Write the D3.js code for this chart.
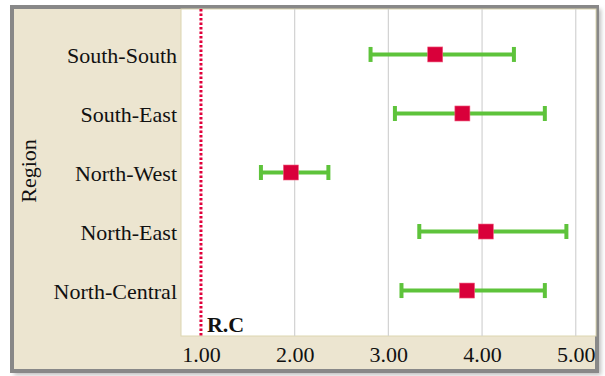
<!DOCTYPE html>
<html>
<head>
<meta charset="utf-8">
<script src="https://cdn.jsdelivr.net/npm/d3@7"></script>
<style>
  body { margin: 0; background: #fff; }
  svg text { font-family: "Liberation Serif", "Times New Roman", serif; fill: #111; }
</style>
</head>
<body>
<div id="chart"></div>
<script>
var regions = ["South-South", "South-East", "North-West", "North-East", "North-Central"]
var means = [3.50, 3.79, 1.96, 4.04, 3.84]
var lower = [2.81, 3.07, 1.64, 3.33, 3.14]
var upper = [4.34, 4.67, 2.36, 4.90, 4.67]
var xTicks = [1, 2, 3, 4, 5]
var refValue = 1
var refLabel = "R.C"

var data = regions.map((r, i) => ({region: r, mean: means[i], lo: lower[i], hi: upper[i]}))

var W = 605, H = 376
var plot = {left: 181, right: 596, top: 9, bottom: 336}

var svg = d3.select('#chart').append('svg')
  .attr('width', W).attr('height', H)

var defs = svg.append('defs')
var f = defs.append('filter').attr('id', 'shadow').attr('x', '-5%').attr('y', '-5%').attr('width', '115%').attr('height', '115%')
f.append('feGaussianBlur').attr('stdDeviation', 2)

/* frame */
svg.append('rect')
  .attr('x', 14).attr('y', 9).attr('width', 587).attr('height', 366)
  .attr('fill', '#bdbdbd').attr('filter', 'url(#shadow)')
svg.append('rect')
  .attr('x', 12).attr('y', 7).attr('width', 585).attr('height', 364)
  .attr('fill', '#ECE5D0').attr('stroke', '#888').attr('stroke-width', 4)

var xScale = d3.scaleLinear()
  .domain([0.787, 5.216])
  .range([plot.left, plot.right])

var yScale = d3.scalePoint()
  .domain(regions)
  .range([plot.top, plot.bottom])
  .padding(0.77)

/* plot area */
svg.append('rect')
  .attr('x', plot.left).attr('y', plot.top)
  .attr('width', plot.right - plot.left).attr('height', plot.bottom - plot.top)
  .attr('fill', '#fff').attr('stroke', '#dcd6b0').attr('stroke-width', 1)

/* grid */
svg.append('g')
  .selectAll('line')
  .data(xTicks.filter(t => t !== refValue))
  .enter().append('line')
  .attr('x1', d => xScale(d)).attr('x2', d => xScale(d))
  .attr('y1', plot.top).attr('y2', plot.bottom)
  .attr('stroke', '#d2d2d2').attr('stroke-width', 1.2)

/* x axis */
var xAxis = svg.append('g')
  .attr('transform', 'translate(0,' + plot.bottom + ')')
  .call(d3.axisBottom(xScale).tickValues(xTicks).tickFormat(d3.format('.2f')).tickSize(0).tickPadding(10))
xAxis.select('.domain').remove()
xAxis.selectAll('text').style('font-size', '22px').attr('fill', '#111')

/* y axis */
var yAxis = svg.append('g')
  .attr('transform', 'translate(' + plot.left + ',0)')
  .call(d3.axisLeft(yScale).tickSize(0).tickPadding(4))
yAxis.select('.domain').remove()
yAxis.selectAll('text').style('font-size', '22px').attr('fill', '#111').attr('dy', '0.35em')

svg.append('text')
  .attr('transform', 'translate(36,171) rotate(-90)')
  .attr('text-anchor', 'middle')
  .style('font-size', '22px')
  .text('Region')

/* reference line */
svg.append('line')
  .attr('x1', xScale(refValue)).attr('x2', xScale(refValue))
  .attr('y1', plot.top).attr('y2', plot.bottom)
  .attr('stroke', '#E0003A').attr('stroke-width', 3)
  .attr('stroke-dasharray', '2.5,2')

svg.append('text')
  .attr('x', xScale(refValue) + 6).attr('y', plot.bottom - 4)
  .style('font-size', '22px').style('font-weight', 'bold')
  .text(refLabel)

/* error bars */
var g = svg.append('g')
var green = '#5EC33B'
g.selectAll('.bar').data(data).enter().append('line')
  .attr('x1', d => xScale(d.lo)).attr('x2', d => xScale(d.hi))
  .attr('y1', d => yScale(d.region)).attr('y2', d => yScale(d.region))
  .attr('stroke', green).attr('stroke-width', 4)
g.selectAll('.capl').data(data).enter().append('line')
  .attr('x1', d => xScale(d.lo)).attr('x2', d => xScale(d.lo))
  .attr('y1', d => yScale(d.region) - 7.5).attr('y2', d => yScale(d.region) + 7.5)
  .attr('stroke', green).attr('stroke-width', 4)
g.selectAll('.capr').data(data).enter().append('line')
  .attr('x1', d => xScale(d.hi)).attr('x2', d => xScale(d.hi))
  .attr('y1', d => yScale(d.region) - 7.5).attr('y2', d => yScale(d.region) + 7.5)
  .attr('stroke', green).attr('stroke-width', 4)
g.selectAll('rect').data(data).enter().append('rect')
  .attr('x', d => xScale(d.mean) - 7.5).attr('y', d => yScale(d.region) - 7.5)
  .attr('width', 15).attr('height', 15)
  .attr('fill', '#D9003A').attr('stroke', '#f06080').attr('stroke-width', 0.6)
</script>
</body>
</html>
